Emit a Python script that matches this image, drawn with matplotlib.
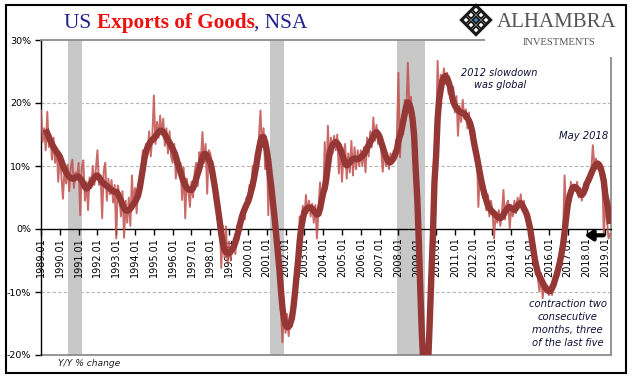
import matplotlib
matplotlib.use('Agg')
import matplotlib.pyplot as plt
import numpy as np
from matplotlib.patches import Rectangle, Polygon

# ---------------- data ----------------
start_year = 1989
# monthly Y/Y % change, Jan 1989 .. Apr 2019
yoy = [
    18.8, 13.8, 16.0, 12.5, 18.6, 13.0, 14.8, 11.0, 14.5, 10.5, 12.8, 7.5,
    11.8, 8.5, 4.8, 9.5, 7.2, 10.2, 6.0, 9.8, 11.0, 6.5, 9.0, 8.0,
    10.5, 2.2, 9.8, 10.9, 4.5, 7.5, 3.0, 8.2, 6.5, 10.0, 7.0, 9.5,
    12.5, 7.0, 8.5, 1.7, 9.2, 10.5, 4.5, 8.0, 5.5, 7.8, 4.2, 7.0,
    -1.5, 6.9, 5.5, 2.0, 6.0, -1.4, 4.5, 1.0, 5.0, 0.5, 8.5, 3.5,
    6.5, 2.5, 7.0, 5.0, 8.8, 12.5, 10.0, 13.5, 12.0, 15.5, 11.5, 14.5,
    21.2, 13.5, 17.0, 14.5, 18.0, 15.0, 17.5, 13.2, 16.0, 12.0, 15.5, 11.5,
    10.5, 13.5, 8.0, 11.5, 9.0, 10.5, 4.6, 9.8, 1.7, 8.0, 6.0, 3.5,
    7.5, 5.0, 9.0, 10.5, 6.8, 12.2, 11.0, 15.4, 10.5, 13.5, 5.6, 12.5,
    12.0, 10.0, 9.5, 4.5, 6.5, 1.0, 2.5, -6.2, 0.5, -4.5, 0.4, -5.5,
    -2.0, -5.0, -3.0, -1.5, -4.0, 0.5, -1.8, 2.0, 0.5, 3.5, 1.5, 5.0,
    3.8, 7.0, 5.0, 10.0, 6.5, 12.0, 9.5, 14.5, 18.8, 13.0, 16.0, 9.5,
    13.5, 2.2, 10.5, 4.0, 6.5, 0.5, 1.0, -5.5, -4.0, -12.0, -18.0, -12.5,
    -16.5, -13.5, -17.0, -14.0, -15.5, -10.5, -12.0, -5.5, -7.0, 2.0, -0.5, 3.7,
    1.5, 5.4, 2.5, 4.5, 2.0, 4.0, 1.0, 3.8, -1.5, 3.0, 7.4, 3.5,
    4.5, 13.8, 7.0, 16.4, 10.5, 14.5, 12.0, 14.8, 12.5, 15.0, 8.8, 13.5,
    7.5, 12.0, 13.5, 8.0, 12.0, 9.0, 14.0, 8.5, 13.0, 9.5, 12.5, 10.0,
    12.5, 10.0, 13.0, 9.0, 14.5, 11.5, 15.5, 13.0, 17.7, 14.0, 16.5, 13.5,
    15.0, 12.5, 9.1, 13.0, 10.0, 11.5, 9.5, 12.0, 10.5, 12.5, 11.0, 14.5,
    24.8, 11.4, 17.5, 15.0, 20.5, 18.0, 26.4, 19.0, 21.0, 15.0, 12.0, 6.0,
    4.0, -3.0, -8.0, -19.0, -23.0, -25.0, -23.5, -22.0, -15.0, -9.0, 1.0, 6.0,
    14.0, 26.7, 19.5, 24.5, 22.0, 25.5, 23.0, 24.8, 21.5, 23.5, 20.0, 22.5,
    18.5, 21.1, 14.8, 19.5, 17.0, 20.5, 17.5, 19.0, 16.0, 18.5, 15.0, 17.0,
    14.0, 12.0, 12.5, 3.5, 9.5, 7.0, 5.0, 6.5, 3.0, 5.5, 2.0, 4.5,
    3.0, -1.5, 2.5, 1.0, 3.0, 0.5, 2.5, 6.2, 1.5, 4.0, 4.5, 0.1,
    3.5, 2.0, 4.5, 2.5, 5.0, 3.5, 5.5, 3.0, 4.5, 2.0, 3.0, 0.5,
    1.0, -3.0, -1.5, -5.5, -4.5, -8.0, -9.9, -7.0, -11.0, -8.5, -10.0, -9.0,
    -10.5, -9.0, -10.5, -8.0, -9.0, -6.5, -7.5, -4.0, -5.5, -1.0, 8.5, 2.5,
    4.5, 3.5, 7.5, 5.5, 7.0, 6.0, 7.5, 5.0, 6.5, 4.5, 6.5, 5.5,
    8.0, 6.5, 8.5, 9.0, 13.3, 10.0, 11.2, 9.5, 10.5, 8.5, 9.0, -1.0,
    4.0, 1.5, -1.5, -0.8,
]
# smoothed average of the Y/Y series, same months
yoy_avg = [
    np.nan, np.nan, np.nan, 15.8, 15.2, 14.6, 14.0, 13.5, 13.0, 12.6, 12.2, 11.9,
    11.5, 10.8, 10.1, 9.5, 9.0, 8.6, 8.3, 8.1, 8.0, 8.0, 8.2, 8.3,
    8.3, 8.0, 7.7, 7.2, 6.7, 6.4, 6.6, 6.9, 7.3, 7.8, 8.1, 8.4,
    8.5, 8.2, 7.8, 7.5, 7.2, 7.0, 6.8, 6.6, 6.4, 6.2, 6.0, 5.9,
    5.9, 5.6, 5.0, 4.5, 3.8, 3.3, 3.0, 2.9, 3.0, 3.2, 3.6, 4.0,
    4.3, 4.8, 5.4, 6.5, 8.0, 9.6, 11.2, 12.3, 13.0, 13.5, 13.9, 14.2,
    14.3, 14.7, 15.1, 15.4, 15.6, 15.6, 15.4, 15.0, 14.5, 14.1, 13.7, 13.2,
    12.7, 12.2, 11.5, 10.6, 9.8, 9.0, 8.2, 7.5, 7.0, 6.5, 6.3, 6.2,
    6.2, 6.5, 7.2, 8.0, 8.8, 9.6, 10.6, 11.4, 11.9, 11.9, 11.6, 11.0,
    10.6, 9.5, 8.0, 6.5, 4.8, 3.0, 1.2, -0.8, -2.3, -3.3, -3.7, -3.8,
    -3.8, -3.6, -3.2, -2.8, -2.1, -1.2, -0.3, 0.8, 1.8, 2.6, 3.2, 3.8,
    4.3, 5.0, 6.0, 7.0, 8.2, 9.6, 11.2, 12.7, 13.9, 14.6, 14.6, 13.8,
    12.5, 10.8, 8.5, 6.5, 4.2, 1.8, -0.8, -3.5, -6.2, -9.5, -12.5, -14.2,
    -15.2, -15.6, -15.5, -15.0, -14.2, -12.5, -10.2, -7.5, -5.0, -2.0, 0.2, 1.6,
    2.7, 3.1, 3.3, 3.4, 3.4, 3.2, 2.9, 2.6, 2.3, 2.4, 3.2, 4.5,
    5.7, 6.5, 8.0, 10.0, 11.8, 12.8, 13.3, 13.6, 13.8, 13.6, 13.2, 12.6,
    11.9, 11.2, 10.4, 10.1, 10.3, 10.6, 10.9, 11.1, 11.2, 11.1, 11.1, 11.2,
    11.4, 11.6, 11.9, 12.3, 12.8, 13.3, 13.8, 14.2, 14.7, 15.2, 15.4, 15.1,
    14.6, 13.8, 13.0, 12.2, 11.5, 11.0, 10.6, 10.6, 10.9, 11.3, 11.9, 12.5,
    14.0, 14.8, 15.8, 17.0, 18.3, 19.5, 20.1, 19.8, 19.0, 17.5, 14.8, 9.5,
    5.0, -2.0, -10.0, -17.0, -22.0, -24.0, -24.0, -21.0, -14.5, -7.5, -1.0, 7.5,
    11.5, 17.5, 20.5, 22.2, 23.5, 24.1, 24.3, 24.0, 23.3, 22.5, 21.3, 20.2,
    19.6, 19.2, 18.9, 18.6, 18.5, 18.4, 18.3, 18.0, 17.6, 17.2, 16.5, 15.6,
    14.0, 12.7, 11.5, 10.1, 8.8, 7.5, 6.4, 5.4, 4.6, 3.8, 3.3, 3.0,
    2.7, 2.5, 2.2, 2.0, 1.8, 1.7, 1.9, 2.3, 2.7, 3.1, 3.4, 3.5,
    3.3, 3.2, 3.0, 3.3, 3.7, 4.0, 4.1, 3.8, 3.3, 2.8, 2.2, 1.2,
    0.1, -1.5, -3.0, -4.8, -6.0, -7.0, -7.5, -8.0, -8.5, -9.0, -9.4, -9.7,
    -9.9, -9.8, -9.4, -8.8, -8.0, -7.2, -6.3, -5.2, -4.0, -2.5, -0.5, 1.8,
    3.8, 5.0, 5.9, 6.5, 6.7, 6.6, 6.4, 6.0, 5.5, 5.4, 5.7, 6.3,
    7.2, 7.6, 8.2, 8.8, 9.4, 9.9, 10.3, 10.4, 10.2, 9.7, 8.8, 7.6,
    5.4, 4.2, 2.8, 0.8,
]
tick_years = list(range(1989, 2020))
tick_labels = [f"{y}.01" for y in tick_years]
y_ticks = [-20, -10, 0, 10, 20, 30]
y_labels = [f"{v}%" for v in y_ticks]
recessions = [(1990.45, 1991.2), (2001.15, 2001.9), (2007.9, 2009.4)]

# ---------------- figure ----------------
W, H = 641, 381
fig = plt.figure(figsize=(W / 100, H / 100), dpi=100)
def fx(px): return px / W
def fy(py): return 1 - py / H

ax = fig.add_axes([fx(41), fy(355), fx(611) - fx(41), fy(40) - fy(355)])
x = start_year + np.arange(len(yoy)) / 12.0

for a, b in recessions:
    ax.axvspan(a, b, color='#c8c8c8', lw=0, zorder=1)
for v in [20, 10, -10]:
    ax.axhline(v, color='#b4b4b4', lw=0.8, ls=(0, (3, 2)), zorder=0.5)
ax.axhline(-20, color='#8c8c8c', lw=1.3, zorder=2, clip_on=False)

ax.plot(x, yoy, color='#c0504d', lw=1.4, alpha=0.85, zorder=3)
ax.plot(x, yoy_avg, color='#953735', lw=4.6, zorder=4, solid_capstyle='butt')

ax.set_xlim(1989.0, 2019.3)
ax.set_ylim(-20, 30)

ax.spines['left'].set_color('black')
ax.spines['left'].set_linewidth(1.0)
ax.spines['top'].set_color('#8c8c8c')
ax.spines['top'].set_linewidth(1.3)
ax.spines['right'].set_color('#8c8c8c')
ax.spines['right'].set_linewidth(1.3)
ax.spines['bottom'].set_position(('data', 0))
ax.spines['bottom'].set_color('black')
ax.spines['bottom'].set_linewidth(1.0)
ax.spines['bottom'].set_zorder(2.5)

ax.set_yticks(y_ticks)
ax.set_yticklabels(y_labels)
ax.set_xticks(tick_years)
ax.set_xticklabels(tick_labels, rotation=90)
ax.tick_params(axis='y', direction='out', length=4, width=1, labelsize=6.8, pad=3)
ax.tick_params(axis='x', direction='out', length=4, width=1, labelsize=7, pad=2)

# annotations
ann_color = '#10103a'
ax.text(2013.38, 23.85, "2012 slowdown\nwas global", ha='center', va='center',
        fontsize=7, style='italic', color=ann_color, linespacing=1.3, zorder=6)
ax.text(2017.85, 14.8, "May 2018", ha='center', va='center',
        fontsize=7.2, style='italic', color=ann_color, zorder=6)
ax.text(2017.0, -15.0, "contraction two\nconsecutive\nmonths, three\nof the last five",
        ha='center', va='center', fontsize=7.2, style='italic', color=ann_color,
        linespacing=1.35, zorder=6)
ax.annotate("", xy=(2017.75, -1.0), xytext=(2019.05, -1.0),
            arrowprops=dict(arrowstyle='-|>,head_width=0.3,head_length=0.45',
                            color='black', lw=3.0), zorder=7)

fig.text(fx(58), fy(364), "Y/Y % change", fontsize=6.6, style='italic',
         ha='left', va='center', color='#222222')

# outer frame
fig.add_artist(Rectangle((fx(6), fy(373)), fx(626) - fx(6), fy(5) - fy(373),
                         transform=fig.transFigure, fill=False, ec='black', lw=1.5, zorder=10))

# title in three colours
fig.canvas.draw()
r = fig.canvas.get_renderer()
cx = 64
base = fy(28)
for txt, col, wt in [("US ", '#1f1f8f', 'normal'), ("Exports of Goods", '#ee1111', 'bold'),
                     (", NSA", '#1f1f8f', 'normal')]:
    t = fig.text(fx(cx), base, txt, fontsize=15.3, family='Liberation Serif',
                 color=col, weight=wt, ha='left', va='baseline')
    bb = t.get_window_extent(renderer=r)
    cx += bb.width

# logo area
fig.add_artist(Rectangle((fx(485), fy(57)), fx(624) - fx(485), fy(6) - fy(57),
                         transform=fig.transFigure, fc='white', ec='none', zorder=8))
cxl, cyl, rr = 476, 20, 15
def dia(cx_, cy_, r_):
    return [(fx(cx_), fy(cy_ - r_)), (fx(cx_ + r_), fy(cy_)),
            (fx(cx_), fy(cy_ + r_)), (fx(cx_ - r_), fy(cy_))]
fig.add_artist(Polygon(dia(cxl, cyl, rr), closed=True, transform=fig.transFigure,
                       fc='white', ec='#1a1a1a', lw=1.8, zorder=9))
step = 5.0
for i in range(-1, 2):
    for j in range(-1, 2):
        ccx = cxl + (i - j) * step
        ccy = cyl + (i + j) * step
        center = (i == 0 and j == 0)
        fig.add_artist(Polygon(dia(ccx, ccy, 3.6), closed=True, transform=fig.transFigure,
                               fc='#3b7fc4' if center else 'white',
                               ec='#1a1a1a', lw=1.3, zorder=9.6))
fig.text(fx(497), fy(27), "ALHAMBRA", fontsize=15, family='Liberation Serif',
         color='#555555', ha='left', va='baseline', zorder=9)
fig.text(fx(559), fy(45), "INVESTMENTS", fontsize=7.6, family='Liberation Serif',
         color='#555555', ha='center', va='baseline', zorder=9)

fig.savefig('out.png', dpi=100)
